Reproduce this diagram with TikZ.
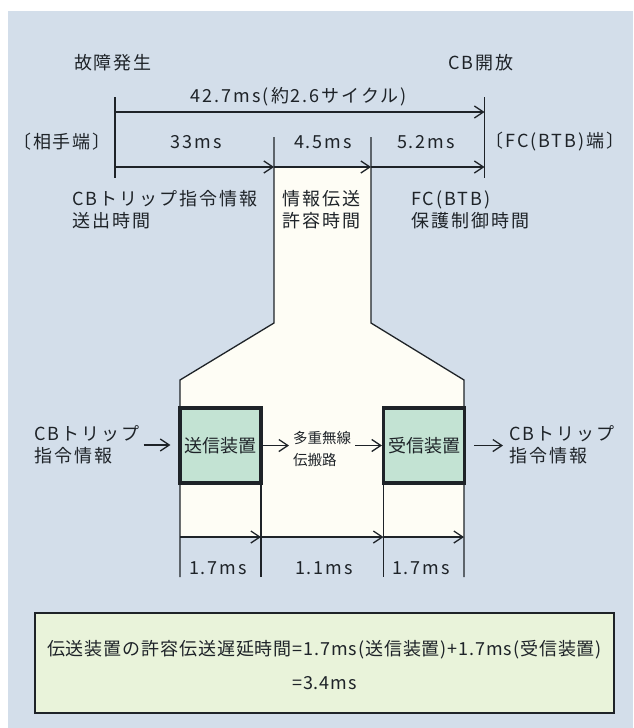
\documentclass[tikz,border=0pt]{standalone}
\usepackage{fontspec}
\newfontfamily\jp[LetterSpace=11]{Noto Sans CJK JP}
\newfontfamily\jps[LetterSpace=5]{Noto Sans CJK JP}
\newfontfamily\jpn{Noto Sans CJK JP}
\usetikzlibrary{arrows.meta}
\definecolor{bgblue}{HTML}{D3DEEA}
\definecolor{funnelw}{HTML}{FEFDF5}
\definecolor{boxgreen}{HTML}{C3E3D3}
\definecolor{notegreen}{HTML}{E9F3DA}
\definecolor{ink}{HTML}{1E2328}
\begin{document}
\begin{tikzpicture}[x=1pt,y=-1pt,
  lbl/.style={font=\jp\fontsize{18}{22}\selectfont, text=ink, inner sep=0pt},
  lblL/.style={lbl, align=left, anchor=west},
  small/.style={font=\jpn\fontsize{14.5}{22}\selectfont, text=ink, inner sep=0pt, align=left, anchor=west},
  thin/.style={draw=ink, line width=1.3pt},
  arr/.style={thin, -{Straight Barb[length=9pt,width=12pt,line width=1.3pt]}},
  devbox/.style={draw=ink, line width=3.2pt, fill=boxgreen, minimum width=81pt, minimum height=75pt, inner sep=0pt, text=ink, font=\jpn\fontsize{18}{22}\selectfont},
  notebox/.style={draw=ink, line width=2.2pt, fill=notegreen, minimum width=579pt, minimum height=100pt, inner sep=0pt},
  notetext/.style={text=ink, align=center, inner sep=0pt, font=\jps\fontsize{18}{34}\selectfont}
]
\useasboundingbox (0,0) rectangle (633,728);
\fill[bgblue] (8,11) rectangle (633,728);

% funnel fill
\fill[funnelw] (274,167) -- (371,167) -- (371,323) -- (464,380) -- (464,537)
  -- (180,537) -- (180,380) -- (274,323) -- cycle;

% coordinates
\coordinate (TL) at (115,97);   \coordinate (BL) at (115,178);
\coordinate (TR) at (484.5,97); \coordinate (BR) at (484.5,178);
\coordinate (M1t) at (274,137); \coordinate (M1k) at (274,323); \coordinate (M1b) at (180,380); \coordinate (M1e) at (180,577);
\coordinate (M2t) at (371,137); \coordinate (M2k) at (371,323); \coordinate (M2b) at (464,380); \coordinate (M2e) at (464,577);
\coordinate (I1t) at (261,483); \coordinate (I1e) at (261,577);
\coordinate (I2t) at (383.5,483); \coordinate (I2e) at (383.5,577);

% ticks and funnel edges
\draw[thin] (TL) -- (BL);
\draw[thin] (TR) -- (BR);
\draw[thin] (M1t) -- (M1k) -- (M1b) -- (M1e);
\draw[thin] (M2t) -- (M2k) -- (M2b) -- (M2e);
\draw[thin] (I1t) -- (I1e);
\draw[thin] (I2t) -- (I2e);

% timeline arrows
\draw[arr] (TL |- 0,112) -- (TR |- 0,112);
\draw[arr] (TL |- 0,167) -- (M1t |- 0,167);
\draw[arr] (M1t |- 0,167) -- (M2t |- 0,167);
\draw[arr] (M2t |- 0,167) -- (TR |- 0,167);

% bottom timeline arrows
\draw[arr] (M1e |- 0,537) -- (I1e |- 0,537);
\draw[arr] (I1e |- 0,537) -- (I2e |- 0,537);
\draw[arr] (I2e |- 0,537) -- (M2e |- 0,537);

% top labels
\node[lbl] (fault) at (113,63) {故障発生};
\node[lbl] (cbopen) at (481,63) {CB開放};
\node[lbl] (total) at (299,97) {42.7ms(約2.6サイクル)};
\node[lbl] (remote) at (62,142) {〔相手端〕};
\node[lbl] (fcend) at (555,142) {〔FC(BTB)端〕};
\node[lbl] (t33) at (196,142) {33ms};
\node[lbl] (t45) at (323,142) {4.5ms};
\node[lbl] (t52) at (426,142) {5.2ms};
\node[lblL] (send) at (72,210) {CBトリップ指令情報\\送出時間};
\node[lblL] (allow) at (282,210) {情報伝送\\許容時間};
\node[lblL] (prot) at (411,210) {FC(BTB)\\保護制御時間};

% middle row
\node[devbox] (tx) at (220.5,445.5) {送信装置};
\node[devbox] (rx) at (424,445.5) {受信装置};
\node[lblL] (inp) at (34,445) {CBトリップ\\指令情報};
\node[small] (chan) at (293,449) {多重無線\\伝搬路};
\node[lblL] (outp) at (509,445) {CBトリップ\\指令情報};
\draw[arr, shorten <=4pt, shorten >=8pt] (inp.east) -- (inp.east -| tx.west);
\draw[arr, shorten >=4pt] (tx.east) -- (tx.east -| chan.west);
\draw[arr, shorten <=4pt] (chan.east |- rx.west) -- (rx.west);
\draw[arr, shorten <=8pt, shorten >=6pt] (rx.east) -- (rx.east -| outp.west);

% bottom durations
\node[lbl] (d1) at (218,568) {1.7ms};
\node[lbl] (d2) at (324,568) {1.1ms};
\node[lbl] (d3) at (421,568) {1.7ms};

% note box
\node[notebox] (note) at (324.5,663) {};
\node[notetext] (notet) at ([yshift=-2pt]note.center) {伝送装置の許容伝送遅延時間=1.7ms(送信装置)+1.7ms(受信装置)\\=3.4ms};
\end{tikzpicture}
\end{document}
